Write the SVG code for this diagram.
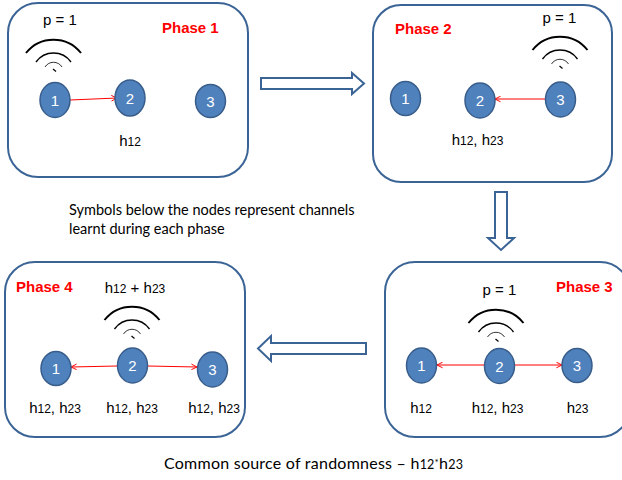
<svg xmlns="http://www.w3.org/2000/svg" width="622" height="480" viewBox="0 0 622 480">
  <style>
    .panel { fill: #ffffff; stroke: #3B6496; stroke-width: 2; }
    .block { fill: #ffffff; stroke: #3B6496; stroke-width: 2; stroke-linejoin: miter; }
    .node ellipse { fill: #4F81BD; stroke: #385D8A; stroke-width: 1.5; }
    .node text { fill: #ffffff; font-family: "Liberation Sans", Arial, sans-serif; font-size: 15px; text-anchor: middle; }
    .link { stroke: #FF0000; stroke-width: 1; fill: none; marker-end: url(#open); }
    .title { fill: #FF0000; font-family: "Liberation Sans", Arial, sans-serif; font-weight: bold; font-size: 15px; }
    .lbl { fill: #000000; font-family: "Liberation Sans", Arial, sans-serif; font-size: 15px; text-anchor: middle; }
    .sub { font-size: 12px; }
    .note { fill: #000000; font-family: Lato, "Liberation Sans", sans-serif; font-size: 14.5px; }
    .foot { fill: #000000; font-family: Lato, "Liberation Sans", sans-serif; font-size: 16px; }
    .wave { fill: none; stroke: #000000; stroke-linecap: butt; }
  </style>
  <defs>
    <marker id="open" viewBox="0 0 10 10" refX="9" refY="5" markerWidth="7" markerHeight="7" markerUnits="userSpaceOnUse" orient="auto">
      <path d="M1 1 L9 5 L1 9" fill="none" stroke="#FF0000" stroke-width="1.4"/>
    </marker>
    <!-- broadcast symbol, origin at the small dash -->
    <g id="wifi">
      <path class="wave" d="M-27.5 -17 A 35 35 0 0 1 27.5 -17" stroke-width="2"/>
      <path class="wave" d="M-17.5 -8 A 21.5 21.5 0 0 1 17.5 -8" stroke-width="1.4"/>
      <path class="wave" d="M-8.5 -3 A 10 10 0 0 1 8.5 -3" stroke-width="0.8" stroke="#555555"/>
      <path class="wave" d="M-0.5 -1 L2.5 1.5" stroke-width="1.2"/>
    </g>
  </defs>

  <!-- phase panels -->
  <rect class="panel" x="8" y="3" width="240" height="174" rx="30"/>
  <rect class="panel" x="373" y="5" width="239" height="177" rx="28"/>
  <rect class="panel" x="5" y="262" width="240" height="175" rx="30"/>
  <rect class="panel" x="385" y="262" width="245" height="175" rx="30"/>

  <!-- flow between phases -->
  <g id="flow">
    <polygon class="block" points="261,78 352,78 352,73 364,83.5 352,94 352,89 261,89"/>
    <polygon class="block" points="495,192 507,192 507,238 514,238 501,250 488,238 495,238"/>
    <polygon class="block" points="366,343 271,343 271,336 258,348.5 271,361 271,354 366,354"/>
  </g>

  <!-- titles -->
  <text class="title" x="162" y="33">Phase 1</text>
  <text class="title" x="395" y="34">Phase 2</text>
  <text class="title" x="556" y="291.5">Phase 3</text>
  <text class="title" x="16" y="291.5">Phase 4</text>

  <!-- transmit indicators -->
  <text class="lbl" x="60" y="25">p = 1</text>
  <use href="#wifi" x="53.5" y="70"/>
  <text class="lbl" x="559.5" y="23">p = 1</text>
  <use href="#wifi" x="560" y="67"/>
  <text class="lbl" x="499.5" y="295">p = 1</text>
  <use href="#wifi" x="496" y="340"/>
  <text class="lbl" x="135" y="292.5">h<tspan class="sub">12</tspan> + h<tspan class="sub">23</tspan></text>
  <use href="#wifi" x="132" y="337"/>

  <!-- connectors -->
  <g id="connectors">
    <line class="link" x1="70" y1="100" x2="117" y2="98"/>
    <line class="link" x1="546" y1="99" x2="495" y2="99"/>
    <line class="link" x1="484" y1="365" x2="437" y2="365"/>
    <line class="link" x1="515" y1="365" x2="562" y2="365"/>
    <line class="link" x1="117" y1="366" x2="71" y2="367"/>
    <line class="link" x1="148" y1="366" x2="197" y2="367"/>
  </g>

  <!-- phase 1 nodes -->
  <g id="p1-n1" class="node"><ellipse cx="55" cy="100" rx="15" ry="17.5"/><text x="55" y="105.5">1</text></g>
  <g id="p1-n2" class="node"><ellipse cx="130" cy="98" rx="15" ry="18"/><text x="130" y="103.5">2</text></g>
  <g id="p1-n3" class="node"><ellipse cx="210.5" cy="101" rx="15" ry="16.5"/><text x="210.5" y="106.5">3</text></g>

  <!-- phase 2 nodes -->
  <g id="p2-n1" class="node"><ellipse cx="405.5" cy="98.5" rx="15" ry="17"/><text x="405.5" y="104">1</text></g>
  <g id="p2-n2" class="node"><ellipse cx="480" cy="100.5" rx="15" ry="17.5"/><text x="480" y="106">2</text></g>
  <g id="p2-n3" class="node"><ellipse cx="560.5" cy="99.5" rx="15" ry="17.5"/><text x="560.5" y="105">3</text></g>

  <!-- phase 3 nodes -->
  <g id="p3-n1" class="node"><ellipse cx="421.5" cy="365.5" rx="15" ry="17.5"/><text x="421.5" y="371">1</text></g>
  <g id="p3-n2" class="node"><ellipse cx="499.5" cy="366" rx="15" ry="17.5"/><text x="499.5" y="371.5">2</text></g>
  <g id="p3-n3" class="node"><ellipse cx="577" cy="365.5" rx="15" ry="17"/><text x="577" y="371">3</text></g>

  <!-- phase 4 nodes -->
  <g id="p4-n1" class="node"><ellipse cx="56" cy="368.5" rx="15" ry="17"/><text x="56" y="374">1</text></g>
  <g id="p4-n2" class="node"><ellipse cx="132.5" cy="365.5" rx="15" ry="17.5"/><text x="132.5" y="371">2</text></g>
  <g id="p4-n3" class="node"><ellipse cx="212.5" cy="369.5" rx="15" ry="17.5"/><text x="212.5" y="375">3</text></g>

  <!-- channels known after each phase -->
  <text class="lbl" x="130" y="146">h<tspan class="sub">12</tspan></text>
  <text class="lbl" x="477.5" y="145">h<tspan class="sub">12</tspan>, h<tspan class="sub">23</tspan></text>
  <text class="lbl" x="421" y="413">h<tspan class="sub">12</tspan></text>
  <text class="lbl" x="497.5" y="413">h<tspan class="sub">12</tspan>, h<tspan class="sub">23</tspan></text>
  <text class="lbl" x="577.5" y="413">h<tspan class="sub">23</tspan></text>
  <text class="lbl" x="55" y="413">h<tspan class="sub">12</tspan>, h<tspan class="sub">23</tspan></text>
  <text class="lbl" x="132" y="413">h<tspan class="sub">12</tspan>, h<tspan class="sub">23</tspan></text>
  <text class="lbl" x="214" y="413">h<tspan class="sub">12</tspan>, h<tspan class="sub">23</tspan></text>

  <!-- notes -->
  <text class="note" x="69" y="215">Symbols below the nodes represent channels</text>
  <text class="note" x="69" y="234">learnt during each phase</text>
  <text class="foot" x="164" y="469" textLength="299" lengthAdjust="spacing">Common source of randomness – h<tspan style="font-size:12.5px">12</tspan><tspan style="font-size:10px" dy="-3.5">*</tspan><tspan dy="3.5">h</tspan><tspan style="font-size:12.5px">23</tspan></text>
</svg>
